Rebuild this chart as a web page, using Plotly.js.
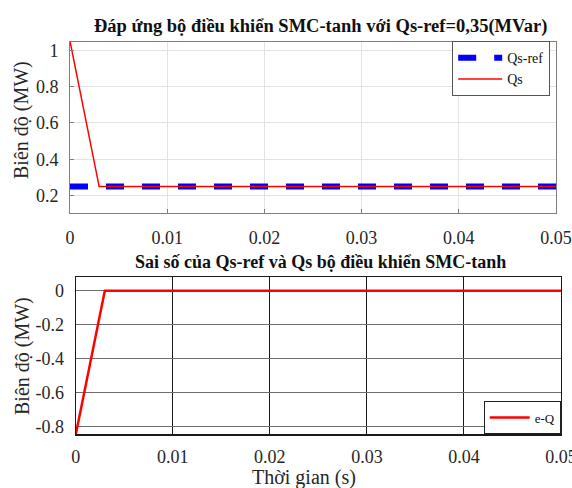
<!DOCTYPE html>
<html><head><meta charset="utf-8">
<script src="https://cdn.plot.ly/plotly-3.0.1.min.js"></script>
<style>html,body{margin:0;padding:0;background:#fff}#chart{width:572px;height:488px}</style>
</head><body><div id="chart"></div>
<script>
// ---- data ----
const timeRef = [0, 0.05];
const qsRef = [0.25, 0.25];
const timeQs = [0, 0.003, 0.05];
const qs = [1.05, 0.25, 0.25];
const timeErr = [0, 0.003, 0.05];
const errQ = [-0.85, 0, 0];
const xTicks = [0, 0.01, 0.02, 0.03, 0.04, 0.05];
const xTickText = ['0', '0.01', '0.02', '0.03', '0.04', '0.05'];
const yTopTicks = [0.2, 0.4, 0.6, 0.8, 1];
const yTopText = ['0.2', '0.4', '0.6', '0.8', '1'];
const yBotTicks = [-0.8, -0.6, -0.4, -0.2, 0];
const yBotText = ['-0.8', '-0.6', '-0.4', '-0.2', '0'];
const titleTop = 'Đáp ứng bộ điều khiển SMC-tanh với Qs-ref=0,35(MVar)';
const titleBot = 'Sai số của Qs-ref và Qs bộ điều khiển SMC-tanh';
const yTitle = 'Biên độ (MW)';
const xTitle = 'Thời gian (s)';

const W = 572, H = 488;
const px = v => v / W;
const py = v => 1 - v / H;
const FONT = 'Liberation Serif';
const tickFont = {family: FONT, size: 18, color: '#262626'};

const traces = [
  {x: timeRef, y: qsRef, xaxis: 'x', yaxis: 'y', name: 'Qs-ref', mode: 'lines',
   line: {color: '#0000ff', width: 6, dash: '18px,18px'}, legend: 'legend'},
  {x: timeQs, y: qs, xaxis: 'x', yaxis: 'y', name: 'Qs', mode: 'lines',
   line: {color: '#ff0000', width: 1.5}, legend: 'legend'},
  {x: timeErr, y: errQ, xaxis: 'x2', yaxis: 'y2', name: 'e-Q', mode: 'lines',
   line: {color: '#ff0000', width: 2.5}, legend: 'legend2'}
];

const layout = {
  width: W, height: H,
  margin: {l: 0, r: 0, t: 0, b: 0},
  paper_bgcolor: '#ffffff', plot_bgcolor: '#ffffff',
  showlegend: true,
  font: {family: FONT},
  xaxis: {domain: [px(70), px(556)], range: [0, 0.05], tickvals: xTicks, ticktext: xTickText,
    tickfont: tickFont, ticks: 'inside', ticklen: 4, tickcolor: '#808080', ticklabeloverflow: 'allow',
    ticklabelstandoff: 8,
    showgrid: true, gridcolor: '#e3e3e3', zeroline: false,
    showline: true, linecolor: '#808080', linewidth: 1, mirror: true, anchor: 'y'},
  yaxis: {domain: [py(213.3), py(41.7)], range: [0.103, 1.047], tickvals: yTopTicks, ticktext: yTopText,
    tickfont: tickFont, ticks: 'inside', ticklen: 4, tickcolor: '#808080', ticklabelstandoff: 7,
    showgrid: true, gridcolor: '#e3e3e3', zeroline: false,
    showline: true, linecolor: '#808080', linewidth: 1, mirror: true, anchor: 'x'},
  xaxis2: {domain: [px(75.7), px(561)], range: [0, 0.05], tickvals: xTicks, ticktext: xTickText,
    tickfont: tickFont, ticks: '', ticklabeloverflow: 'allow', ticklabelstandoff: 6,
    showgrid: true, gridcolor: '#1a1a1a', gridwidth: 1, zeroline: false,
    showline: true, linecolor: '#1a1a1a', linewidth: 1.2, mirror: true, anchor: 'y2'},
  yaxis2: {domain: [py(434.3), py(277.3)], range: [-0.847, 0.079], tickvals: yBotTicks, ticktext: yBotText,
    tickfont: tickFont, ticks: '', ticklabelstandoff: 7,
    showgrid: true, gridcolor: '#6e6e6e', gridwidth: 1.3, zeroline: false,
    showline: true, linecolor: '#1a1a1a', linewidth: 1.2, mirror: true, anchor: 'x2'},
  legend: {x: px(452), y: py(41), xanchor: 'left', yanchor: 'top',
    bgcolor: '#ffffff', bordercolor: '#555555', borderwidth: 1.2,
    font: {family: FONT, size: 14, color: '#111'}, itemwidth: 44},
  legend2: {x: px(561.5), y: py(434.3), xanchor: 'right', yanchor: 'bottom',
    bgcolor: '#ffffff', bordercolor: '#222222', borderwidth: 1.2,
    font: {family: FONT, size: 13, color: '#111'}, itemwidth: 40},
  annotations: [
    {text: '<b>' + titleTop + '</b>', xref: 'paper', yref: 'paper', x: px(320), y: py(27),
     xanchor: 'center', yanchor: 'middle', showarrow: false, font: {family: FONT, size: 18.5, color: '#111'}},
    {text: '<b>' + titleBot + '</b>', xref: 'paper', yref: 'paper', x: px(320), y: py(262),
     xanchor: 'center', yanchor: 'middle', showarrow: false, font: {family: FONT, size: 18, color: '#111'}},
    {text: yTitle, xref: 'paper', yref: 'paper', x: px(21), y: py(120), textangle: -90,
     xanchor: 'center', yanchor: 'middle', showarrow: false, font: {family: FONT, size: 20, color: '#262626'}},
    {text: yTitle, xref: 'paper', yref: 'paper', x: px(22), y: py(356), textangle: -90,
     xanchor: 'center', yanchor: 'middle', showarrow: false, font: {family: FONT, size: 20, color: '#262626'}},
    {text: xTitle, xref: 'paper', yref: 'paper', x: px(303.5), y: py(477), 
     xanchor: 'center', yanchor: 'middle', showarrow: false, font: {family: FONT, size: 20, color: '#262626'}}
  ]
};

Plotly.newPlot('chart', traces, layout, {displayModeBar: false, staticPlot: true});
</script>
</body></html>
